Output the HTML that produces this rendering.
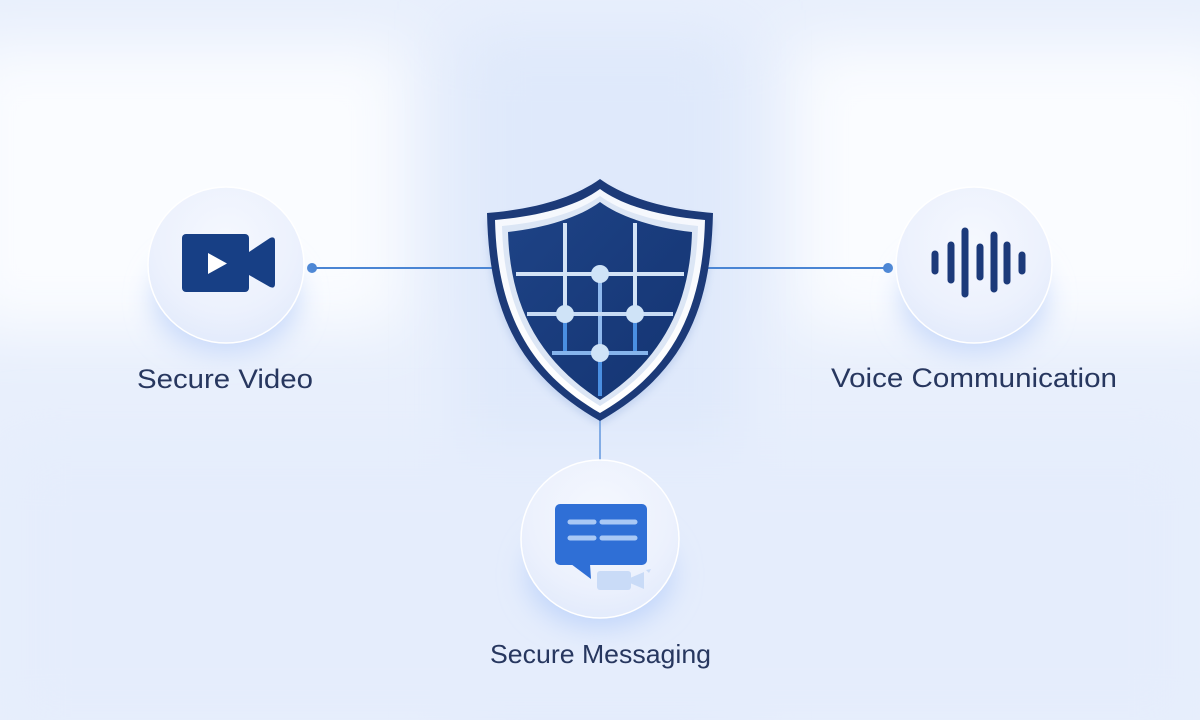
<!DOCTYPE html>
<html>
<head>
<meta charset="utf-8">
<style>
  html,body{margin:0;padding:0;width:1200px;height:720px;overflow:hidden;background:#e8effc;}
  svg{display:block;}
  text{font-family:"Liberation Sans", "DejaVu Sans", sans-serif;fill:#27375f;}
</style>
</head>
<body>
<svg width="1200" height="720" viewBox="0 0 1200 720" xmlns="http://www.w3.org/2000/svg">
  <defs>
    <filter id="blur40" x="-50%" y="-50%" width="200%" height="200%"><feGaussianBlur stdDeviation="30"/></filter>
    <filter id="blur15" x="-50%" y="-50%" width="200%" height="200%"><feGaussianBlur stdDeviation="14"/></filter>
    <filter id="blur4" x="-50%" y="-50%" width="200%" height="200%"><feGaussianBlur stdDeviation="4"/></filter>
    <radialGradient id="circ" cx="50%" cy="35%" r="65%">
      <stop offset="0%" stop-color="#f5f8fe"/>
      <stop offset="70%" stop-color="#ecf1fd"/>
      <stop offset="100%" stop-color="#e3ebfc"/>
    </radialGradient>
    <linearGradient id="innerShield" x1="0" y1="0" x2="1" y2="1">
      <stop offset="0%" stop-color="#1e4386"/>
      <stop offset="100%" stop-color="#143472"/>
    </linearGradient>
    <linearGradient id="band" x1="0" y1="0" x2="0" y2="1">
      <stop offset="0%" stop-color="#f4f7fd"/>
      <stop offset="100%" stop-color="#ffffff"/>
    </linearGradient>
  </defs>

  <!-- background -->
  <rect x="0" y="0" width="1200" height="720" fill="#e8effc"/>
  <rect x="-40" y="45" width="445" height="285" fill="#fafcff" filter="url(#blur40)"/>
  <rect x="795" y="45" width="445" height="285" fill="#fafcff" filter="url(#blur40)"/>
  <rect x="460" y="30" width="280" height="700" fill="#dfe9fb" filter="url(#blur40)"/>
  <rect x="0" y="440" width="1200" height="300" fill="#e5edfc" filter="url(#blur40)"/>

  <!-- connectors -->
  <line x1="312" y1="268" x2="495" y2="268" stroke="#4a85d4" stroke-width="2"/>
  <line x1="706" y1="268" x2="888" y2="268" stroke="#4a85d4" stroke-width="2"/>
  <circle cx="312" cy="268" r="5" fill="#4a85d4"/>
  <circle cx="888" cy="268" r="5" fill="#4a85d4"/>
  <line x1="600" y1="418" x2="600" y2="462" stroke="#6a9de0" stroke-width="1.6"/>

  <!-- circle shadows -->
  <ellipse cx="226" cy="300" rx="72" ry="52" fill="#c6d8fa" filter="url(#blur15)"/>
  <ellipse cx="974" cy="300" rx="72" ry="52" fill="#c6d8fa" filter="url(#blur15)"/>
  <ellipse cx="600" cy="575" rx="72" ry="52" fill="#bfd4fa" filter="url(#blur15)"/>

  <!-- circles -->
  <circle cx="226" cy="265" r="78" fill="url(#circ)" stroke="#ffffff" stroke-width="1.5"/>
  <circle cx="974" cy="265" r="78" fill="url(#circ)" stroke="#ffffff" stroke-width="1.5"/>
  <circle cx="600" cy="539" r="79" fill="url(#circ)" stroke="#ffffff" stroke-width="1.5"/>

  <!-- video icon -->
  <rect x="182" y="234" width="67" height="58" rx="4" fill="#173f85"/>
  <path d="M249,252 L270,238 Q275,236 275,241 L275,284 Q275,289 270,287 L249,275 Z" fill="#173f85"/>
  <path d="M208,253 L227,263.5 L208,274 Z" fill="#ffffff"/>

  <!-- voice icon -->
  <g stroke="#1c3a7a" stroke-width="7" stroke-linecap="round">
    <line x1="935" y1="254" x2="935" y2="271"/>
    <line x1="951" y1="245" x2="951" y2="280"/>
    <line x1="965" y1="231" x2="965" y2="294"/>
    <line x1="980" y1="247" x2="980" y2="277"/>
    <line x1="994" y1="235" x2="994" y2="289"/>
    <line x1="1007" y1="245" x2="1007" y2="281"/>
    <line x1="1022" y1="255" x2="1022" y2="271"/>
  </g>

  <!-- messaging icon -->
  <rect x="555" y="504" width="92" height="61" rx="5" fill="#2f6fd6"/>
  <path d="M571,564 L591,579 L590,564 Z" fill="#2f6fd6"/>
  <g stroke="#a9c8f5" stroke-width="5" stroke-linecap="round">
    <line x1="570" y1="522" x2="594" y2="522"/>
    <line x1="602" y1="522" x2="635" y2="522"/>
    <line x1="570" y1="538" x2="594" y2="538"/>
    <line x1="602" y1="538" x2="635" y2="538"/>
  </g>
  <rect x="597" y="571" width="34" height="19" rx="3" fill="#c9dbf7"/>
  <path d="M630,578 L644,572 L644,589 L630,583 Z" fill="#c9dbf7"/>
  <path d="M646,570 L651,569 L649,573 Z" fill="#c9dbf7"/>

  <!-- shield -->
  <g>
    <path d="M600,185 C575,203 537,215 487,219 C489,306 510,375 600,425 C690,375 711,306 713,219 C663,215 625,203 600,185 Z" fill="#6f93cf" opacity="0.25" filter="url(#blur4)"/>
    <path d="M600,179 C575,197 537,209 487,213 C489,300 510,370 600,421 C690,370 711,300 713,213 C663,209 625,197 600,179 Z" fill="#1c3a78"/>
    <path d="M600,189 C577,206 540,216 495,220 C497,302 522,368 600,413 C678,368 703,302 705,220 C660,216 623,206 600,189 Z" fill="url(#band)"/>
    <path d="M600,196 C578,212 545,222 502,226 C504,302 528,362 600,406 C672,362 696,302 698,226 C655,222 622,212 600,196 Z" fill="#dce6f5"/>
    <path d="M600,202 C580,217 545,228 508,232 C510,305 538,360 600,400 C662,360 690,305 692,232 C655,228 620,217 600,202 Z" fill="url(#innerShield)"/>

    <!-- grid -->
    <g stroke-width="4" stroke-linecap="butt">
      <line x1="565" y1="223" x2="565" y2="314" stroke="#d3e3f6"/>
      <line x1="635" y1="223" x2="635" y2="314" stroke="#d3e3f6"/>
      <line x1="565" y1="314" x2="565" y2="353" stroke="#4a8fe2"/>
      <line x1="635" y1="314" x2="635" y2="353" stroke="#4a8fe2"/>
      <line x1="600" y1="274" x2="600" y2="353" stroke="#8fb9ee"/>
      <line x1="600" y1="353" x2="600" y2="396" stroke="#4a8fe2"/>
      <line x1="516" y1="274" x2="684" y2="274" stroke="#d3e3f6"/>
      <line x1="527" y1="314" x2="673" y2="314" stroke="#c7dbf4"/>
      <line x1="552" y1="353" x2="648" y2="353" stroke="#86b4ec"/>
    </g>
    <g fill="#cfe3f7">
      <circle cx="600" cy="274" r="9"/>
      <circle cx="565" cy="314" r="9"/>
      <circle cx="635" cy="314" r="9"/>
      <circle cx="600" cy="353" r="9"/>
    </g>
  </g>

  <!-- labels -->
  <text x="137" y="388" font-size="27" textLength="176" lengthAdjust="spacingAndGlyphs">Secure Video</text>
  <text x="831" y="387" font-size="27" textLength="286" lengthAdjust="spacingAndGlyphs">Voice Communication</text>
  <text x="490" y="663" font-size="26" textLength="221" lengthAdjust="spacingAndGlyphs">Secure Messaging</text>
</svg>
</body>
</html>
